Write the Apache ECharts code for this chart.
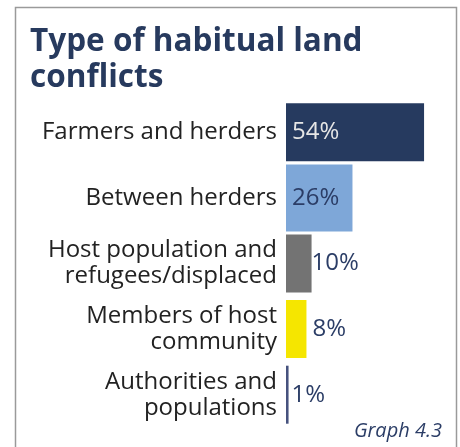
<!DOCTYPE html>
<html>
<head>
<meta charset="utf-8">
<script src="https://cdn.jsdelivr.net/npm/echarts@6/dist/echarts.min.js"></script>
<style>
  html, body { margin: 0; padding: 0; background: #ffffff; }
  #chart { width: 460px; height: 447px; }
</style>
</head>
<body>
<div id="chart"></div>
<script>
// Conflict types and their shares (%)
const categories = [
  'Farmers and herders',
  'Between herders',
  'Host population and\nrefugees/displaced',
  'Members of host\ncommunity',
  'Authorities and\npopulations'
];
const shares = [54, 26, 10, 8, 1];
const barColors = ['#263a5f', '#7ea7d8', '#737373', '#f5e600', '#46527e'];
const labelColors = ['#e6e6e6', '#2b3d66', '#2b3d66', '#2b3d66', '#2b3d66'];
const labelInside = [true, true, false, false, false];
const labelGap = [6, 6, 0, 6, 3];
// the second category is drawn with a slightly taller bar
const tallIndex = 1;

const FONT = 'Open Sans';
const NAVY = '#273a5e';

function barItems(keepTall) {
  return shares.map((v, i) => {
    if ((i === tallIndex) !== keepTall) return '-';
    return {
      value: v,
      itemStyle: { color: barColors[i] },
      label: {
        show: true,
        position: labelInside[i] ? 'insideLeft' : 'right',
        distance: labelGap[i],
        color: labelColors[i]
      }
    };
  });
}

const labelBase = {
  formatter: '{c}%',
  fontFamily: FONT,
  fontSize: 24,
  fontWeight: 'normal'
};

const chart = echarts.init(document.getElementById('chart'), null, { renderer: 'canvas' });
chart.setOption({
  animation: false,
  backgroundColor: '#ffffff',
  title: [
    {
      text: 'Type of habitual land\nconflicts',
      left: 25,
      top: 19,
      textStyle: {
        fontFamily: FONT,
        fontSize: 31.5,
        fontWeight: 'bold',
        color: NAVY,
        lineHeight: 36
      }
    },
    {
      text: 'Graph 4.3',
      right: 13,
      bottom: 1,
      textStyle: {
        fontFamily: FONT,
        fontSize: 20,
        fontStyle: 'italic',
        fontWeight: 'normal',
        color: '#2b3d66'
      }
    }
  ],
  graphic: [
    {
      type: 'rect',
      shape: { x: 15.5, y: 7.5, width: 441, height: 460 },
      style: { fill: 'none', stroke: '#9a9a9a', lineWidth: 1.5 },
      silent: true
    }
  ],
  grid: { left: 286, right: 20.6, top: 99.5, bottom: 19.5, containLabel: false },
  xAxis: {
    type: 'value',
    min: 0,
    max: 60,
    show: false
  },
  yAxis: [
    {
      type: 'category',
      inverse: true,
      data: categories,
      axisLine: { show: false },
      axisTick: { show: false },
      axisLabel: {
        margin: 9,
        fontFamily: FONT,
        fontSize: 24,
        lineHeight: 26,
        color: '#222222',
        align: 'right'
      }
    },
    {
      type: 'category',
      inverse: true,
      data: categories,
      show: false
    }
  ],
  series: [
    {
      type: 'bar',
      yAxisIndex: 0,
      barWidth: 58,
      data: barItems(false),
      label: labelBase
    },
    {
      type: 'bar',
      yAxisIndex: 1,
      barWidth: 67,
      data: barItems(true),
      label: labelBase
    }
  ]
});
</script>
</body>
</html>
